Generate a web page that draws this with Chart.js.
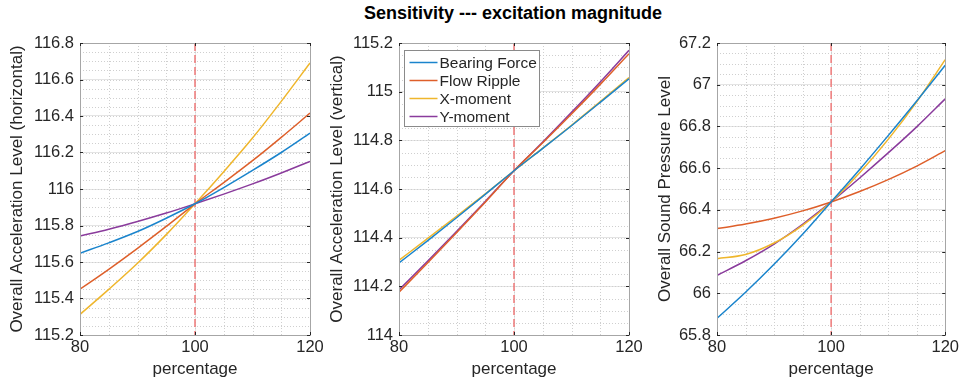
<!DOCTYPE html>
<html>
<head>
<meta charset="utf-8">
<script src="https://cdn.jsdelivr.net/npm/chart.js@4.4.0/dist/chart.umd.min.js"></script>
<style>
	body { margin: 0; background: #fff; }
	#wrap { position: relative; width: 962px; height: 387px; overflow: hidden; }
	.title { position: absolute; left: 0; width: 1026px; top: 3px; line-height: 21px; text-align: center;
		font: bold 18px "Liberation Sans", Arial, sans-serif; color: #000; }
	canvas { position: absolute; top: 0; }
</style>
</head>
<body>
<div id="wrap">
	<div class="title">Sensitivity --- excitation magnitude</div>
	<canvas id="c1" width="330" height="387" style="left:0px"></canvas>
	<canvas id="c2" width="330" height="387" style="left:320px"></canvas>
	<canvas id="c3" width="322" height="387" style="left:640px"></canvas>
</div>
<script>
// Data
const pct = [80, 85, 90, 95, 100, 105, 110, 115, 120];
const seriesNames = ["Bearing Force", "Flow Ripple", "X-moment", "Y-moment"];
const seriesColors = ["#1a84cc", "#de5f2a", "#efb62c", "#8a3b9c"];
const refPct = 100;

// horizontal acceleration
const horBearing = [115.648, 115.705, 115.767, 115.840, 115.919, 116.008, 116.102, 116.200, 116.306];
const horFlow    = [115.451, 115.560, 115.675, 115.795, 115.919, 116.035, 116.155, 116.283, 116.416];
const horX       = [115.313, 115.450, 115.593, 115.750, 115.919, 116.095, 116.279, 116.480, 116.690];
const horY       = [115.743, 115.780, 115.822, 115.868, 115.919, 115.972, 116.028, 116.088, 116.151];

// vertical acceleration
const verBearing = [114.296, 114.388, 114.482, 114.578, 114.675, 114.767, 114.860, 114.956, 115.053];
const verFlow    = [114.176, 114.297, 114.420, 114.546, 114.675, 114.790, 114.908, 115.030, 115.156];
const verX       = [114.307, 114.397, 114.488, 114.580, 114.675, 114.768, 114.862, 114.959, 115.058];
const verY       = [114.186, 114.304, 114.425, 114.549, 114.675, 114.793, 114.915, 115.040, 115.170];

// sound pressure
const splBearing = [65.880, 66.005, 66.139, 66.283, 66.438, 66.594, 66.756, 66.922, 67.093];
const splFlow    = [66.310, 66.332, 66.360, 66.395, 66.438, 66.488, 66.545, 66.610, 66.684];
const splX       = [66.166, 66.186, 66.241, 66.326, 66.438, 66.578, 66.738, 66.918, 67.120];
const splY       = [66.086, 66.156, 66.236, 66.331, 66.438, 66.553, 66.673, 66.798, 66.932];

const xMinorStep = 5;
const yMinorStep = 0.05;

const FONT = "'Liberation Sans', Arial, sans-serif";
const TEXT = "#262626";

// Frame, minor grid, reference line, inward ticks, legend
const matlabAxes = {
	id: "matlabAxes",
	beforeDatasetsDraw(chart) {
		const { ctx, chartArea: a, scales: { x, y } } = chart;
		ctx.save();
		ctx.lineWidth = 1;
		ctx.strokeStyle = "#cfcfcf";
		ctx.setLineDash([1, 2]);
		for (let v = x.min + xMinorStep; v < x.max - 1e-9; v += xMinorStep) {
			const px = Math.round(x.getPixelForValue(v)) + 0.5;
			ctx.beginPath(); ctx.moveTo(px, a.top); ctx.lineTo(px, a.bottom); ctx.stroke();
		}
		for (let v = y.min + yMinorStep; v < y.max - 1e-9; v += yMinorStep) {
			const py = Math.round(y.getPixelForValue(v)) + 0.5;
			ctx.beginPath(); ctx.moveTo(a.left, py); ctx.lineTo(a.right, py); ctx.stroke();
		}
		// reference line
		ctx.strokeStyle = "#f07a7a";
		ctx.lineWidth = 1.5;
		ctx.setLineDash([8, 4]);
		const rx = x.getPixelForValue(refPct);
		ctx.beginPath(); ctx.moveTo(rx, a.top); ctx.lineTo(rx, a.bottom); ctx.stroke();
		ctx.restore();
	},
	afterDatasetsDraw(chart, args, opts) {
		const { ctx, chartArea: a, scales: { x, y } } = chart;
		ctx.save();
		ctx.lineWidth = 1;
		ctx.strokeStyle = "#a6a6a6";
		ctx.strokeRect(Math.round(a.left) + 0.5, Math.round(a.top) + 0.5,
			Math.round(a.right - a.left), Math.round(a.bottom - a.top));
		ctx.strokeStyle = TEXT;
		y.ticks.forEach((t) => {
			const py = Math.round(y.getPixelForValue(t.value)) + 0.5;
			ctx.beginPath();
			ctx.moveTo(a.left, py); ctx.lineTo(a.left + 3, py);
			ctx.moveTo(a.right, py); ctx.lineTo(a.right - 3, py);
			ctx.stroke();
		});
		x.ticks.forEach((t) => {
			const px = Math.round(x.getPixelForValue(t.value)) + 0.5;
			ctx.beginPath();
			ctx.moveTo(px, a.bottom); ctx.lineTo(px, a.bottom - 3);
			ctx.moveTo(px, a.top); ctx.lineTo(px, a.top + 3);
			ctx.stroke();
		});

		if (opts.legend) {
			const bx = Math.round(a.left) + 5.5, by = Math.round(a.top) + 7.5;
			ctx.fillStyle = "#fff";
			ctx.fillRect(bx, by, 135, 76);
			ctx.strokeStyle = "#8a8a8a";
			ctx.strokeRect(bx, by, 135, 76);
			ctx.font = "15.5px " + FONT;
			ctx.textBaseline = "middle";
			chart.data.datasets.forEach((ds, i) => {
				const ry = by + 12 + i * 18;
				ctx.strokeStyle = ds.borderColor;
				ctx.lineWidth = 1.5;
				ctx.beginPath(); ctx.moveTo(bx + 5, ry); ctx.lineTo(bx + 33, ry); ctx.stroke();
				ctx.fillStyle = TEXT;
				ctx.fillText(ds.label, bx + 35, ry + 1);
			});
		}
		ctx.restore();
	},
};

function makeChart(id, series, yMin, yMax, yTitle, yWidth, yTitlePad, rightPad, withLegend) {
	return new Chart(document.getElementById(id), {
		type: "line",
		data: {
			datasets: series.map((vals, i) => ({
				label: seriesNames[i],
				data: pct.map((p, j) => ({ x: p, y: vals[j] })),
				borderColor: seriesColors[i],
				borderWidth: 1.5,
				pointRadius: 0,
				fill: false,
				cubicInterpolationMode: "monotone",
			})),
		},
		options: {
			responsive: false,
			animation: false,
			layout: { padding: { top: 43, right: rightPad, left: 0, bottom: 0 } },
			plugins: {
				legend: { display: false },
				tooltip: { enabled: false },
				matlabAxes: { legend: withLegend },
			},
			scales: {
				x: {
					type: "linear",
					min: 80,
					max: 120,
					afterFit: (s) => { s.height = 52; },
					ticks: { stepSize: 20, color: TEXT, padding: 3, font: { family: FONT, size: 16.5 } },
					grid: { color: "#e4e4e4", drawTicks: false },
					border: { display: false },
					title: { display: true, text: "percentage", color: TEXT, padding: { top: 0, bottom: 7 },
						font: { family: FONT, size: 17 } },
				},
				y: {
					min: yMin,
					max: yMax,
					afterFit: (s) => { s.width = yWidth; },
					ticks: {
						stepSize: 0.2, color: TEXT, padding: 6, font: { family: FONT, size: 16.5 },
						callback: (v) => String(+v.toFixed(1)),
					},
					grid: { color: "#e4e4e4", drawTicks: false },
					border: { display: false },
					title: { display: true, text: yTitle, color: TEXT, padding: { top: yTitlePad, bottom: 0 },
						font: { family: FONT, size: 17 } },
				},
			},
		},
		plugins: [matlabAxes],
	});
}

makeChart("c1", [horBearing, horFlow, horX, horY], 115.2, 116.8,
	"Overall Acceleration Level (horizontal)", 80, 7, 20, false);
makeChart("c2", [verBearing, verFlow, verX, verY], 114, 115.2,
	"Overall Acceleration Level (vertical)", 79, 7, 21, true);
makeChart("c3", [splBearing, splFlow, splX, splY], 65.8, 67.2,
	"Overall Sound Pressure Level", 77, 15, 15, false);
</script>
</body>
</html>
